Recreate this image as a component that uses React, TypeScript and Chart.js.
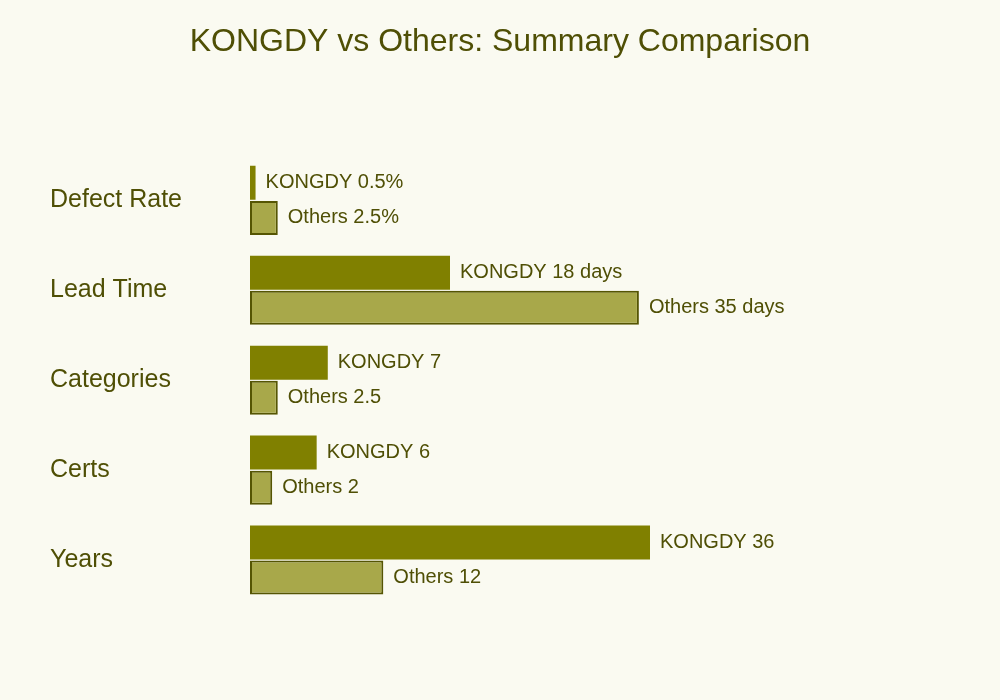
import React, { useEffect, useRef } from "react";
import { Chart, registerables } from "chart.js";

Chart.register(...registerables);

const categories = ["Defect Rate", "Lead Time", "Categories", "Certs", "Years"];
const kongdyValues = [0.5, 18, 7, 6, 36];
const othersValues = [2.5, 35, 2.5, 2, 12];
const valueSuffixes = ["%", " days", "", "", ""];

const FONT = "'Liberation Sans', Arial, Helvetica, sans-serif";
const TEXT_COLOR = "#4f4f05";
const BG = "#fafaf1";

// draws "Series value" text just past the end of each bar
const barLabelPlugin = {
  id: "barLabels",
  afterDatasetsDraw(chart: Chart) {
    const ctx = chart.ctx;
    ctx.save();
    ctx.font = `20px ${FONT}`;
    ctx.fillStyle = TEXT_COLOR;
    ctx.textAlign = "left";
    ctx.textBaseline = "middle";
    chart.data.datasets.forEach((ds, di) => {
      const meta = chart.getDatasetMeta(di);
      meta.data.forEach((bar: any, i) => {
        const v = ds.data[i] as number;
        ctx.fillText(`${ds.label} ${v}${valueSuffixes[i]}`, bar.x + 10, bar.y);
      });
    });
    ctx.restore();
  },
};

export default function App() {
  const canvasRef = useRef<HTMLCanvasElement | null>(null);
  const chartRef = useRef<Chart | null>(null);

  useEffect(() => {
    if (!canvasRef.current) return;
    const ctx = canvasRef.current.getContext("2d");
    if (!ctx) return;

    if (chartRef.current) {
      chartRef.current.destroy();
    }

    chartRef.current = new Chart(ctx, {
      type: "bar",
      data: {
        labels: categories,
        datasets: [
          {
            label: "KONGDY",
            data: kongdyValues,
            backgroundColor: "#808000",
            borderWidth: 0,
            categoryPercentage: 0.78,
            barPercentage: 0.97,
          },
          {
            label: "Others",
            data: othersValues,
            backgroundColor: "#a8a84a",
            borderColor: "#555503",
            borderWidth: 2,
            borderSkipped: false,
            categoryPercentage: 0.78,
            barPercentage: 0.97,
          },
        ],
      },
      options: {
        indexAxis: "y",
        animation: false,
        responsive: true,
        maintainAspectRatio: false,
        layout: { padding: { left: 50, right: 50, top: 0, bottom: 95 } },
        plugins: {
          legend: { display: false },
          tooltip: { enabled: false },
          title: {
            display: true,
            text: "KONGDY vs Others: Summary Comparison",
            color: TEXT_COLOR,
            font: { family: FONT, size: 32, weight: "normal" },
            padding: { top: 23, bottom: 94 },
          },
        },
        scales: {
          x: { display: false, min: 0, max: 63 },
          y: {
            grid: { display: false },
            border: { display: false },
            ticks: {
              color: TEXT_COLOR,
              font: { family: FONT, size: 25 },
              crossAlign: "far",
              padding: 0,
            },
            afterFit: (scale: any) => {
              scale.width = 200;
            },
          },
        },
      },
      plugins: [barLabelPlugin],
    });

    return () => {
      if (chartRef.current) {
        chartRef.current.destroy();
        chartRef.current = null;
      }
    };
  }, []);

  return (
    <div
      style={{
        position: "fixed",
        left: 0,
        top: 0,
        width: 1000,
        height: 700,
        background: BG,
      }}
    >
      <canvas ref={canvasRef} />
    </div>
  );
}
